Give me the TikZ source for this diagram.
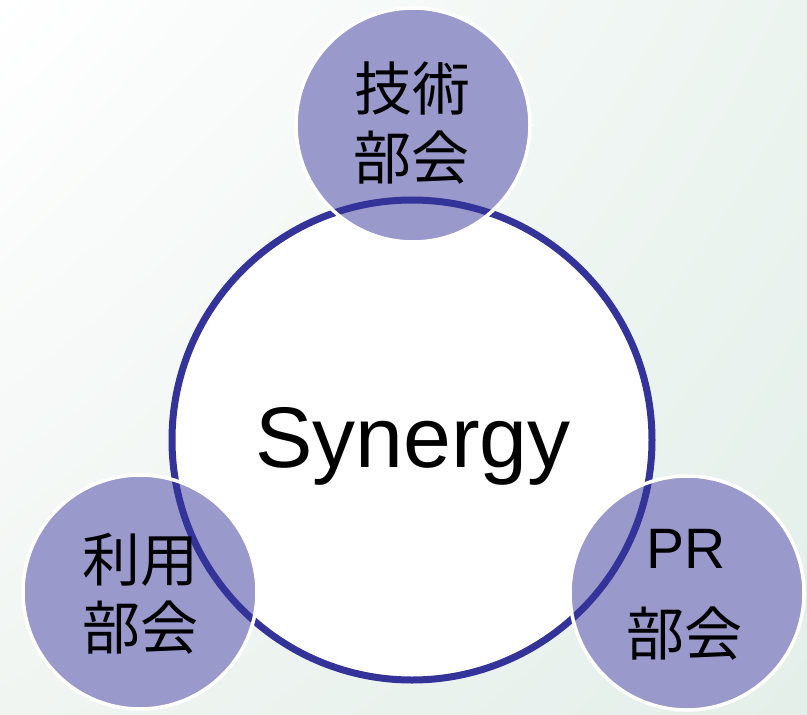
\documentclass[tikz,border=0pt]{standalone}
\usepackage{fontspec}
\usetikzlibrary{shadings}
\setmainfont{Liberation Sans}
\newfontfamily\jp{Noto Sans CJK JP}
\definecolor{ringblue}{HTML}{333399}
\definecolor{lavender}{HTML}{9999CC}
\definecolor{bgtl}{HTML}{FFFFFF}
\definecolor{bgtr}{HTML}{ECF4F0}
\definecolor{bgbl}{HTML}{F0F5F2}
\definecolor{bgbr}{HTML}{E4EFEA}
\begin{document}
\begin{tikzpicture}[x=1pt,y=-1pt,
  bigfill/.style={fill=white},
  bigring/.style={draw=ringblue,line width=7pt},
  subfill/.style={fill=lavender},
  subborder/.style={draw=white,line width=3.5pt},
  jplabel/.style={anchor=base,inner sep=0pt,font=\jp\fontsize{58}{69}\selectfont},
  latlabel/.style={anchor=base,inner sep=0pt,font=\fontsize{57}{69}\selectfont},
  biglabel/.style={anchor=base,inner sep=0pt,font=\fontsize{86}{100}\selectfont}]
\useasboundingbox (0,0) rectangle (807,715);
\shade[upper left=bgtl,upper right=bgtr,lower left=bgbl,lower right=bgbr] (0,0) rectangle (807,715);
\path[bigfill] (412,440) circle[radius=240];
\path[subfill] (413,125) circle[radius=117];
\path[subfill] (140,592) circle[radius=117];
\path[subfill] (687,593) circle[radius=117];
\draw[bigring] (412,440) circle[radius=240];
\path[subborder] (413,125) circle[radius=117];
\path[subborder] (140,592) circle[radius=117];
\path[subborder] (687,593) circle[radius=117];
\node[biglabel] (syn) at (413,467) {Synergy};
\node[jplabel] (t1) at (412,110.5) {技術};
\node[jplabel] (t2) at (411,179.5) {部会};
\node[jplabel] (l1) at (140,581) {利用};
\node[jplabel] (l2) at (140,649) {部会};
\node[latlabel] (r1) at (686,568) {PR};
\node[jplabel] (r2) at (684,655) {部会};
\end{tikzpicture}
\end{document}
